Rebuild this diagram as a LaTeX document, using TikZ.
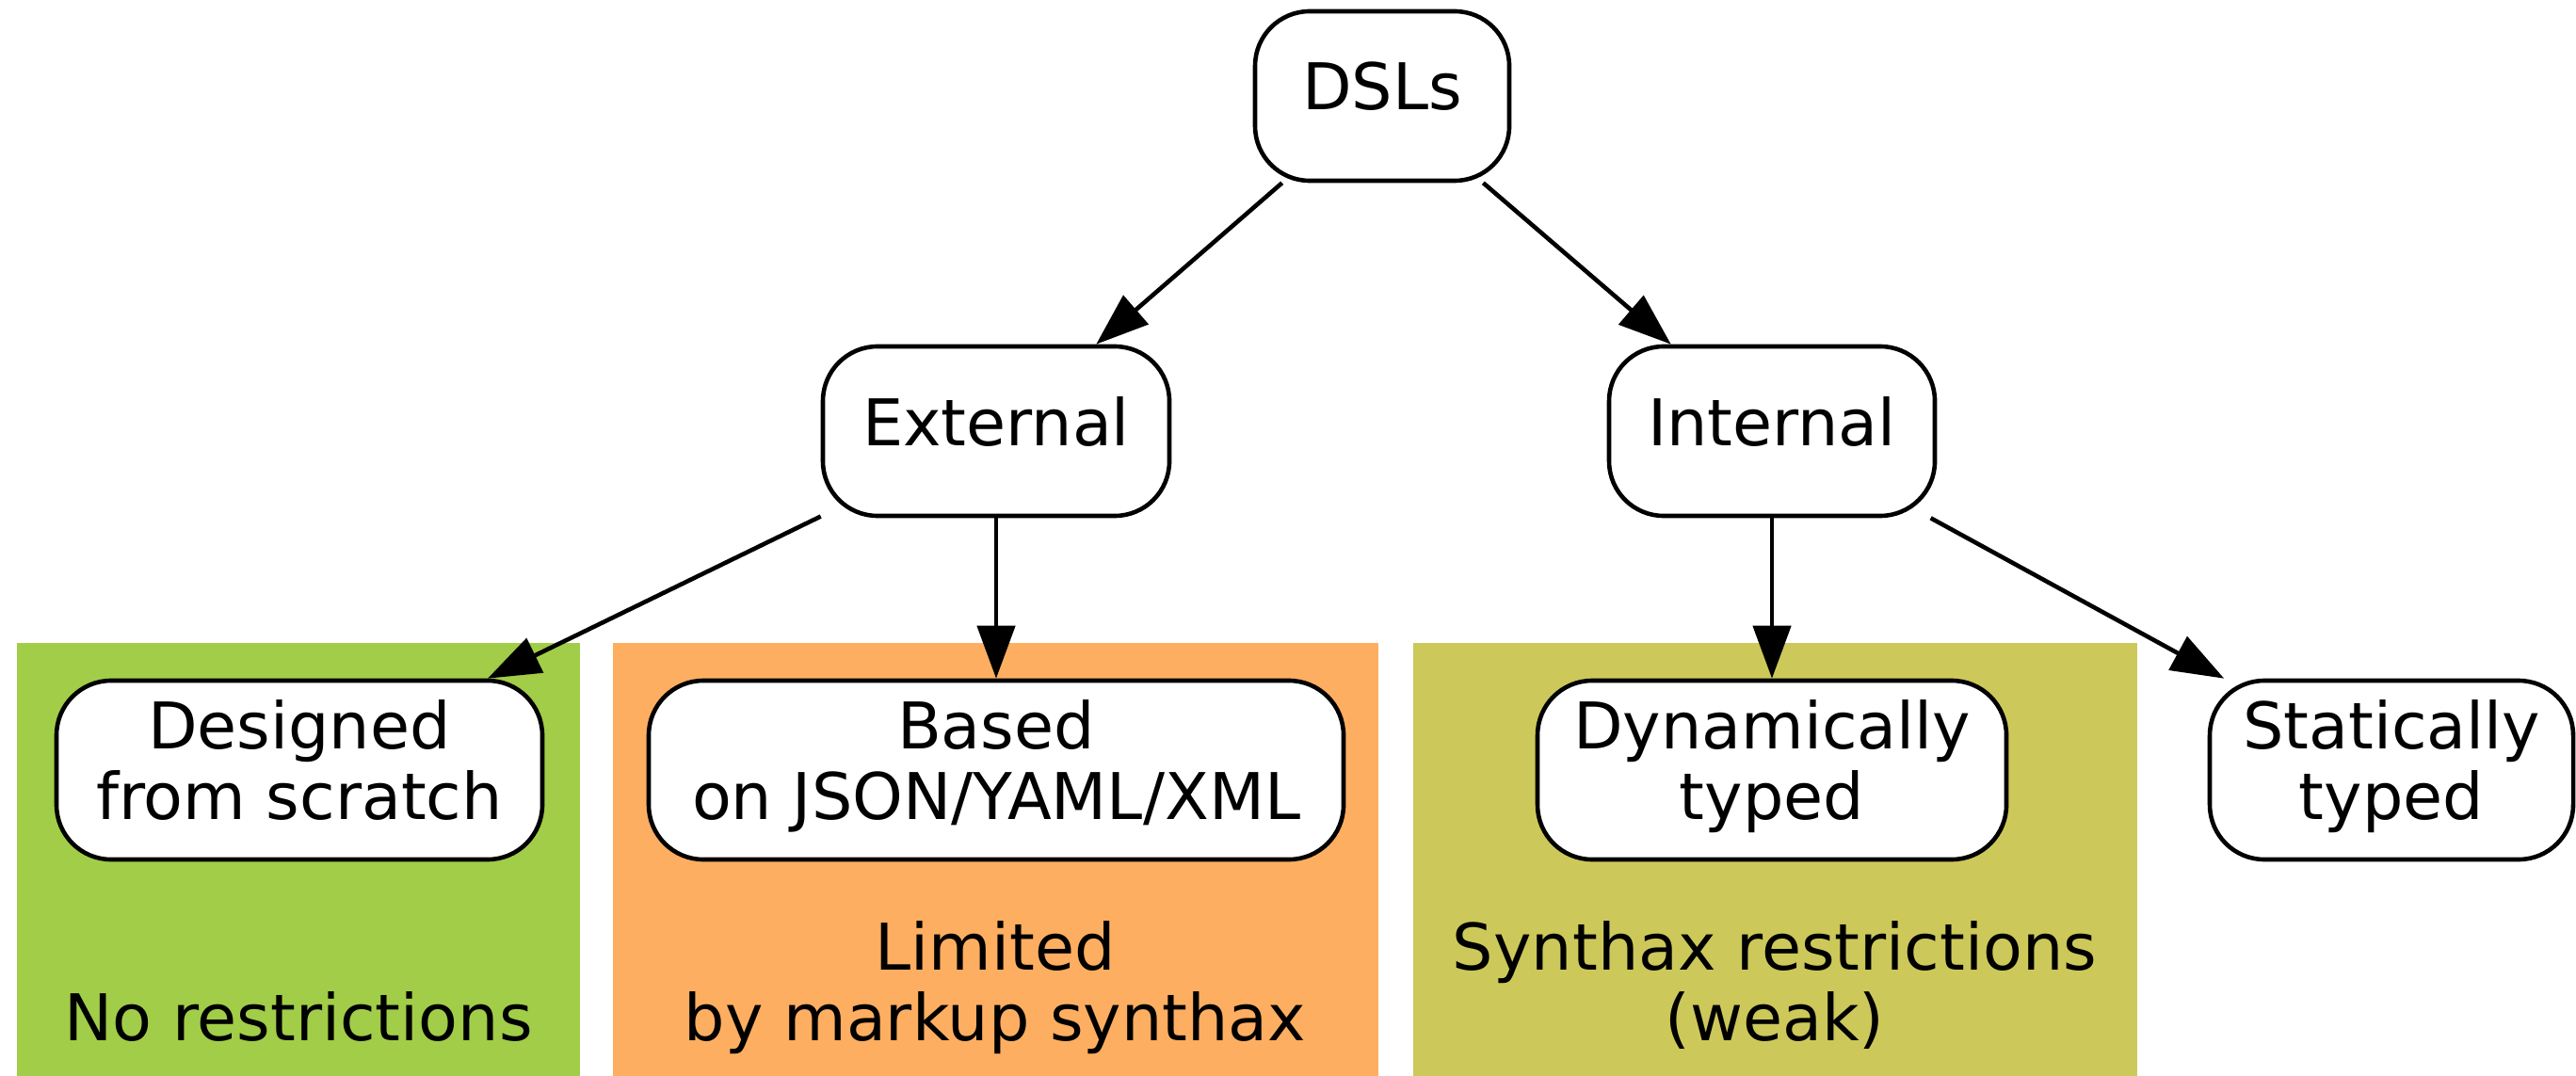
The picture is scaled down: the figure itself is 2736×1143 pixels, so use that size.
\documentclass[tikz,border=0pt]{standalone}
\usepackage{fontspec}
\setmainfont{DejaVu Sans}
\usetikzlibrary{arrows.meta}

% centred multi-line cell text; the [b] variant sits on its last baseline
\newcommand\linestack[1]{\begin{tabular}{@{}c@{}}#1\end{tabular}}
\newcommand\bottomstack[1]{\begin{tabular}[b]{@{}c@{}}#1\end{tabular}}

\definecolor{clgreen}{HTML}{A1CD48}
\definecolor{clorange}{HTML}{FDAE61}
\definecolor{clolive}{HTML}{CDC85A}

\begin{document}
\begin{tikzpicture}[x=0.25pt,y=-0.25pt,
  every node/.style={font=\fontsize{17.1}{18.75}\selectfont, inner sep=0pt},
  box/.style={draw, line width=1.15pt, fill=white, rounded corners=14.5pt,
              minimum height=45pt},
  tallbox/.style={box, minimum height=47.5pt},
  edgearrow/.style={line width=1.15pt, -{Triangle[length=14pt,width=10pt]}},
  clusterlabel/.style={anchor=base}]

\useasboundingbox (0,0) rectangle (2736,1143);

% coloured clusters
\fill[clgreen]  (18,683)   rectangle (616,1143);
\fill[clorange] (651,683)  rectangle (1464,1143);
\fill[clolive]  (1501,683) rectangle (2270,1143);

% cluster captions
\node[clusterlabel] (capA) at (317,1105)  {\bottomstack{No restrictions}};
\node[clusterlabel] (capB) at (1057,1105) {\bottomstack{Limited\\by markup synthax}};
\node[clusterlabel] (capC) at (1885,1105) {\bottomstack{Synthax restrictions\\(weak)}};

% tree nodes
\node[box, minimum width=67.5pt] (dsl) at (1468,102) {\linestack{DSLs}};
\node[box, minimum width=92pt]   (ext) at (1058,458) {\linestack{External}};
\node[box, minimum width=86.5pt] (int) at (1882,458) {\linestack{Internal}};

\node[tallbox, minimum width=129pt]   (des) at (318,818)  {\linestack{Designed\\from scratch}};
\node[tallbox, minimum width=184.5pt] (bas) at (1058,818) {\linestack{Based\\on JSON/YAML/XML}};
\node[tallbox, minimum width=124.5pt] (dyn) at (1882,818) {\linestack{Dynamically\\typed}};
\node[tallbox, minimum width=96.5pt]  (sta) at (2540,818) {\linestack{Statically\\typed}};

% connectors
\draw[edgearrow] (dsl) -- (ext);
\draw[edgearrow] (dsl) -- (int);
\draw[edgearrow] (ext) -- (des);
\draw[edgearrow] (ext) -- (bas);
\draw[edgearrow] (int) -- (dyn);
\draw[edgearrow] (int) -- (sta);
\end{tikzpicture}
\end{document}
